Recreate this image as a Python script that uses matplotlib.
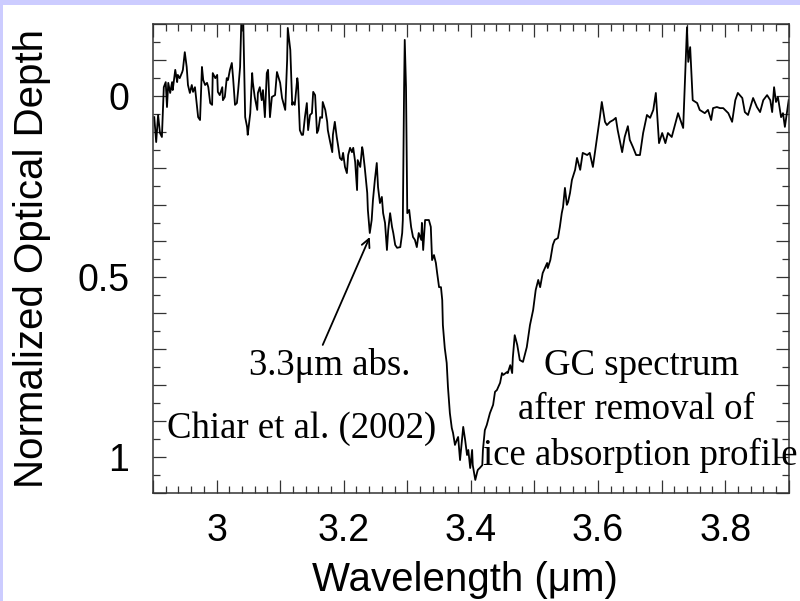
import matplotlib
matplotlib.use("Agg")
import matplotlib.pyplot as plt
from matplotlib.ticker import MultipleLocator, FuncFormatter
from matplotlib.patches import Rectangle

# GC spectrum after removal of the ice absorption profile
wavelength = [
    2.902, 2.905, 2.908, 2.911, 2.914, 2.917, 2.920, 2.922, 2.924, 2.927,
    2.930, 2.931, 2.935, 2.938, 2.939, 2.942, 2.946, 2.947, 2.950, 2.953,
    2.955, 2.958, 2.961, 2.963, 2.966, 2.969, 2.971, 2.974, 2.977, 2.979,
    2.982, 2.985, 2.987, 2.990, 2.993, 2.994, 2.998, 3.001, 3.002, 3.005,
    3.009, 3.010, 3.013, 3.016, 3.018, 3.021, 3.024, 3.026, 3.029, 3.032,
    3.034, 3.037, 3.039, 3.042, 3.045, 3.048, 3.049, 3.053, 3.056, 3.057,
    3.060, 3.064, 3.065, 3.068, 3.071, 3.073, 3.076, 3.079, 3.081, 3.084,
    3.087, 3.092, 3.095, 3.100, 3.103, 3.108, 3.111, 3.112, 3.116, 3.119,
    3.120, 3.123, 3.127, 3.128, 3.131, 3.134, 3.136, 3.139, 3.142, 3.144,
    3.147, 3.150, 3.152, 3.155, 3.158, 3.160, 3.163, 3.166, 3.167, 3.171,
    3.174, 3.175, 3.178, 3.182, 3.183, 3.186, 3.189, 3.191, 3.194, 3.197,
    3.199, 3.202, 3.205, 3.207, 3.210, 3.213, 3.215, 3.218, 3.221, 3.222,
    3.226, 3.229, 3.230, 3.233, 3.237, 3.238, 3.241, 3.244, 3.246, 3.249,
    3.252, 3.254, 3.257, 3.260, 3.262, 3.265, 3.268, 3.270, 3.273, 3.276,
    3.278, 3.281, 3.284, 3.289, 3.292, 3.293, 3.295, 3.296, 3.298, 3.300,
    3.303, 3.306, 3.309, 3.312, 3.315, 3.318, 3.322, 3.323, 3.325, 3.328,
    3.331, 3.334, 3.337, 3.339, 3.342, 3.345, 3.347, 3.350, 3.353, 3.355,
    3.356, 3.359, 3.362, 3.364, 3.367, 3.370, 3.372, 3.375, 3.378, 3.380,
    3.383, 3.386, 3.388, 3.391, 3.394, 3.396, 3.399, 3.402, 3.403, 3.407,
    3.410, 3.411, 3.414, 3.418, 3.419, 3.422, 3.425, 3.430, 3.435, 3.438,
    3.441, 3.446, 3.449, 3.451, 3.457, 3.458, 3.462, 3.465, 3.466, 3.469,
    3.473, 3.477, 3.482, 3.488, 3.493, 3.498, 3.502, 3.506, 3.509, 3.513,
    3.520, 3.521, 3.525, 3.529, 3.532, 3.537, 3.540, 3.543, 3.545, 3.548,
    3.551, 3.553, 3.556, 3.559, 3.564, 3.567, 3.572, 3.576, 3.583, 3.587,
    3.592, 3.598, 3.603, 3.606, 3.611, 3.614, 3.619, 3.624, 3.628, 3.631,
    3.638, 3.642, 3.647, 3.650, 3.655, 3.660, 3.666, 3.671, 3.677, 3.682,
    3.687, 3.691, 3.696, 3.701, 3.706, 3.710, 3.716, 3.721, 3.726, 3.734,
    3.738, 3.740, 3.742, 3.745, 3.749, 3.756, 3.760, 3.768, 3.773, 3.778,
    3.781, 3.787, 3.792, 3.797, 3.805, 3.811, 3.816, 3.820, 3.827, 3.831,
    3.836, 3.844, 3.850, 3.855, 3.860, 3.866, 3.871, 3.874, 3.877, 3.880,
    3.883, 3.888, 3.891, 3.894, 3.897, 3.900,
]
depth = [
    0.058, 0.127, 0.052, 0.102, 0.113, -0.025, -0.039, 0.030, -0.037, -0.009,
    -0.039, -0.017, -0.073, -0.039, -0.059, -0.050, -0.067, -0.073, -0.122, -0.081,
    -0.031, -0.009, -0.031, -0.012, -0.025, 0.024, 0.058, 0.066, -0.081, -0.045,
    -0.031, -0.037, -0.025, 0.019, 0.024, -0.064, -0.050, -0.059, -0.012, -0.003,
    -0.025, 0.011, 0.002, -0.050, -0.045, -0.073, -0.092, -0.050, 0.024, 0.019,
    -0.017, -0.081, -0.211, -0.205, 0.058, 0.085, 0.107, 0.047, -0.064, -0.039,
    0.002, 0.038, -0.009, -0.025, 0.011, -0.017, 0.058, -0.064, -0.073, 0.058,
    0.002, -0.003, -0.067, -0.037, 0.005, 0.038, -0.100, -0.189, -0.128, 0.024,
    0.016, 0.024, -0.050, -0.037, 0.094, 0.107, 0.107, 0.058, 0.019, 0.094,
    0.052, 0.047, -0.012, -0.003, 0.102, 0.094, 0.058, 0.060, 0.016, 0.038,
    0.071, 0.094, 0.121, 0.155, 0.107, 0.071, 0.113, 0.135, 0.171, 0.177,
    0.157, 0.196, 0.213, 0.163, 0.143, 0.155, 0.143, 0.182, 0.260, 0.177,
    0.196, 0.141, 0.149, 0.196, 0.268, 0.315, 0.379, 0.343, 0.288, 0.232,
    0.185, 0.252, 0.296, 0.279, 0.324, 0.351, 0.426, 0.371, 0.324, 0.362,
    0.379, 0.412, 0.420, 0.418, 0.379, 0.343, -0.025, -0.156, -0.025, 0.324,
    0.315, 0.362, 0.390, 0.398, 0.418, 0.379, 0.398, 0.351, 0.426, 0.343,
    0.343, 0.343, 0.362, 0.454, 0.440, 0.462, 0.490, 0.529, 0.529, 0.565,
    0.634, 0.698, 0.739, 0.806, 0.878, 0.919, 0.933, 0.966, 0.952, 0.944,
    1.008, 0.952, 0.916, 0.952, 0.994, 0.980, 1.030, 0.980, 1.022, 1.063,
    1.041, 1.035, 1.030, 1.022, 0.980, 0.925, 0.911, 0.878, 0.855, 0.819,
    0.814, 0.794, 0.767, 0.772, 0.764, 0.767, 0.745, 0.767, 0.725, 0.662,
    0.689, 0.731, 0.736, 0.695, 0.634, 0.592, 0.537, 0.509, 0.529, 0.490,
    0.462, 0.476, 0.454, 0.412, 0.398, 0.393, 0.362, 0.324, 0.307, 0.254,
    0.301, 0.293, 0.268, 0.232, 0.204, 0.171, 0.204, 0.157, 0.163, 0.157,
    0.196, 0.121, 0.058, 0.016, 0.071, 0.080, 0.071, 0.066, 0.060, 0.094,
    0.155, 0.113, 0.083, 0.121, 0.141, 0.163, 0.163, 0.102, 0.052, 0.060,
    0.038, -0.009, 0.130, 0.102, 0.130, 0.102, 0.113, 0.080, 0.047, 0.088,
    -0.100, -0.191, -0.095, -0.136, 0.011, 0.019, 0.038, 0.047, 0.038, 0.066,
    0.033, 0.030, 0.033, 0.033, 0.047, 0.071, 0.011, -0.009, 0.005, 0.044,
    0.052, 0.005, 0.030, 0.044, 0.011, -0.003, 0.011, 0.044, -0.025, 0.016,
    0.002, 0.058, 0.047, 0.085, 0.047, 0.011,
]

x_range = (2.9, 3.9)
y_range = (1.1, -0.2)          # optical depth grows downwards
x_label_at = [3.0, 3.2, 3.4, 3.6, 3.8]
x_label_text = ["3", "3.2", "3.4", "3.6", "3.8"]
y_label_at = [0.0, 0.5, 1.0]
y_label_text = ["0", "0.5", "1"]

sans = ["Liberation Sans", "DejaVu Sans"]
serif = ["Liberation Serif", "DejaVu Serif"]

fig = plt.figure(figsize=(8.0, 6.01), dpi=100, facecolor="white")

# slide-style lavender edges
lav = "#ccccff"
fig.patches.append(Rectangle((0, 1 - 5 / 601), 1, 5 / 601, transform=fig.transFigure,
                             facecolor=lav, edgecolor="none", zorder=0))
fig.patches.append(Rectangle((0, 0), 3 / 800, 1, transform=fig.transFigure,
                             facecolor=lav, edgecolor="none", zorder=0))

ax = fig.add_axes([153 / 800, (601 - 493.3) / 601, 635.7 / 800, 469.3 / 601])
ax.plot(wavelength, depth, color="black", lw=1.3)
ax.set_xlim(*x_range)
ax.set_ylim(*y_range)


def make_fmt(at, text):
    def f(v, pos):
        for a, t in zip(at, text):
            if abs(v - a) < 1e-6:
                return t
        return ""
    return FuncFormatter(f)


ax.xaxis.set_major_locator(MultipleLocator(0.1))
ax.xaxis.set_minor_locator(MultipleLocator(0.02))
ax.yaxis.set_major_locator(MultipleLocator(0.1))
ax.yaxis.set_minor_locator(MultipleLocator(0.05))
ax.xaxis.set_major_formatter(make_fmt(x_label_at, x_label_text))
ax.yaxis.set_major_formatter(make_fmt(y_label_at, y_label_text))

spine_col = "#333333"
for s in ax.spines.values():
    s.set_color(spine_col)
    s.set_linewidth(1.1)
ax.tick_params(which="both", direction="in", top=True, right=True,
               color=spine_col, width=0.9)
ax.tick_params(which="major", length=9.5, labelsize=27)
ax.tick_params(axis="x", which="major", pad=14)
ax.tick_params(axis="y", which="major", pad=17)
ax.tick_params(which="minor", length=5)
for lab in ax.get_xticklabels() + ax.get_yticklabels():
    lab.set_family(sans)

ax.set_xlabel("Wavelength (\u03bcm)", fontsize=29, family=sans, va="center")
ax.set_ylabel("Normalized Optical Depth", fontsize=29, family=sans, va="center")
ax.xaxis.set_label_coords(0.491, -0.185)
ax.yaxis.set_label_coords(-0.19, 0.5)

# annotations
tsize = 26.5
ax.annotate("", xy=(3.241, 0.39), xytext=(3.167, 0.689),
            arrowprops=dict(arrowstyle="->,head_length=0.6,head_width=0.3",
                            color="black", lw=1.3, shrinkA=0, shrinkB=0))
ax.text(3.178, 0.772, "3.3\u03bcm abs.", family=serif, fontsize=tsize,
        ha="center", va="baseline")
ax.text(2.922, 0.947, "Chiar et al. (2002)", family=serif, fontsize=tsize,
        ha="left", va="baseline")
ax.text(3.668, 0.772, "GC spectrum", family=serif, fontsize=tsize,
        ha="center", va="baseline")
ax.text(3.660, 0.894, "after removal of", family=serif, fontsize=tsize,
        ha="center", va="baseline")
ax.text(3.666, 1.022, "ice absorption profile", family=serif, fontsize=tsize,
        ha="center", va="baseline")

fig.savefig("out.png", dpi=100, facecolor="white")
